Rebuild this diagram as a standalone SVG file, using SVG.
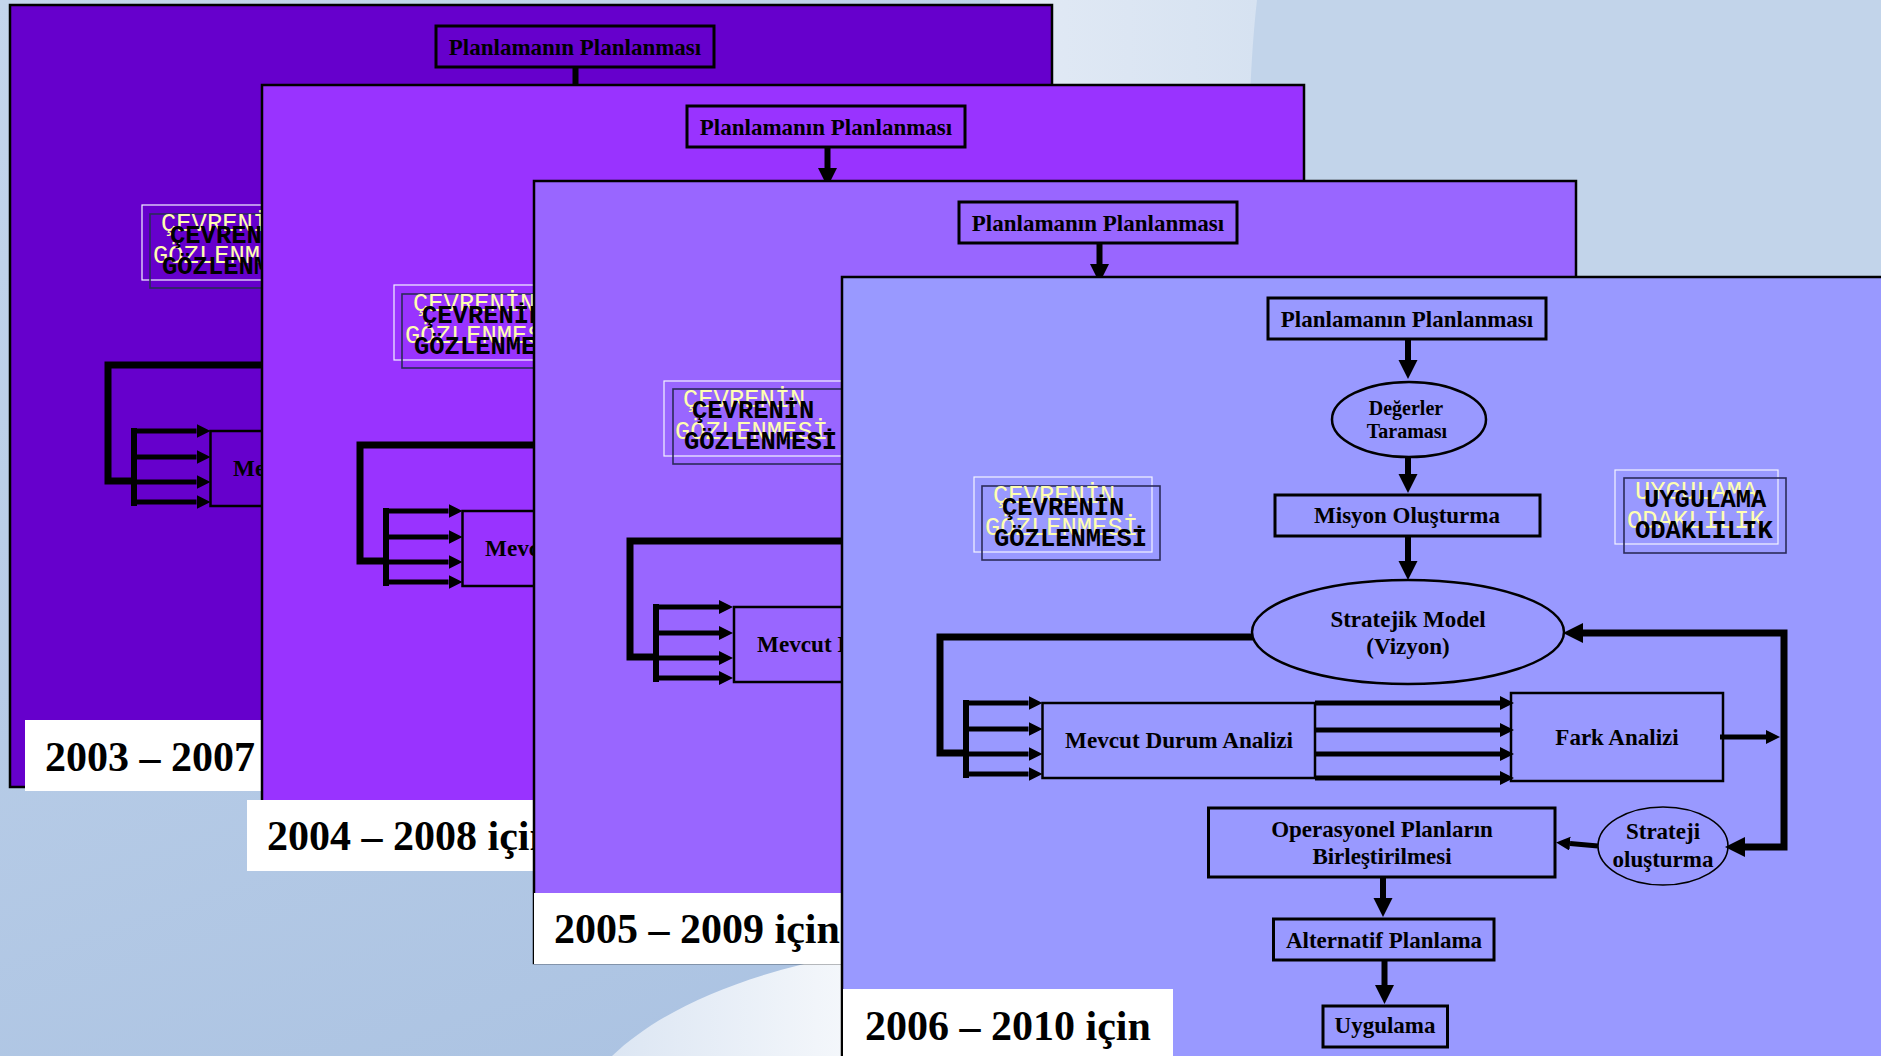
<svg xmlns="http://www.w3.org/2000/svg" width="1881" height="1056" viewBox="0 0 1881 1056">
<defs>
<style>
.slide{stroke:#000;stroke-width:2.5}
.bx{fill:none;stroke:#000;stroke-width:3}
.bx2{fill:none;stroke:#000;stroke-width:2.5}
.bx1{fill:none;stroke:#000;stroke-width:1.6}
.bt{font-family:"Liberation Serif","Times New Roman",serif;font-weight:bold;font-size:23px;text-anchor:middle;fill:#000}
.s20{font-size:20px}
.s21{font-size:23.2px}
.mono{font-family:"Liberation Mono","Courier New",monospace;font-size:25.5px}
.lt{fill:#FFFFB0;font-weight:normal}
.dk{fill:#000;font-weight:bold}
.wr{fill:none;stroke:#F4F4FF;stroke-width:1.2}
.dr{fill:none;stroke:#2B2B5A;stroke-width:1.6}
.ln{fill:none;stroke:#000;stroke-width:6}
.lt7{fill:none;stroke:#000;stroke-width:7}
.la{fill:none;stroke:#000;stroke-width:5}
.lab{fill:#fff}
.labt{font-family:"Liberation Serif","Times New Roman",serif;font-weight:bold;font-size:42px;fill:#000}
</style>
<marker id="aB" markerUnits="userSpaceOnUse" markerWidth="20" markerHeight="20" refX="0" refY="9.5" orient="auto"><path d="M0,0 L19,9.5 L0,19 z" fill="#000"/></marker>
<marker id="aF" markerUnits="userSpaceOnUse" markerWidth="21" markerHeight="21" refX="0" refY="10" orient="auto-start-reverse"><path d="M0,0 L20,10 L0,20 z" fill="#000"/></marker>
<marker id="aS" markerUnits="userSpaceOnUse" markerWidth="15" markerHeight="15" refX="0" refY="7" orient="auto"><path d="M0,0 L14,7 L0,14 z" fill="#000"/></marker>
<linearGradient id="bg" x1="0" y1="0" x2="0.6" y2="1">
<stop offset="0" stop-color="#C4D6EC"/>
<stop offset="1" stop-color="#A9C1E1"/>
</linearGradient>
<linearGradient id="sw1" x1="0" y1="0" x2="1" y2="0">
<stop offset="0" stop-color="#E2EAF5"/>
<stop offset="1" stop-color="#D6E2F1"/>
</linearGradient>
<linearGradient id="sw2" x1="0" y1="0" x2="1" y2="0">
<stop offset="0" stop-color="#DCE6F3"/>
<stop offset="1" stop-color="#F4F7FB"/>
</linearGradient>
</defs>

<g id="background">
<rect x="0" y="0" width="1881" height="1056" fill="url(#bg)"/>
<rect x="1250" y="0" width="631" height="300" fill="#C2D4EA"/>
<path d="M1000,0 L1257,0 C1250,60 1247,150 1246,300 L1000,300 Z" fill="url(#sw1)"/>
<path d="M612,1056 C660,1010 740,975 845,955 L845,1056 Z" fill="url(#sw2)"/>
</g>

<!-- Slide 1 -->
<g id="slide1" transform="translate(10,5)">
<rect class="slide" x="0" y="0" width="1042" height="782" fill="#6600CC"/>
<g id="s1-connectors">
<line class="ln" x1="565.5" y1="62" x2="565.5" y2="95"/>
<polyline class="lt7" points="300,360 98,360 98,476 124,476"/>
<line class="ln" x1="124" y1="423" x2="124" y2="501"/>
<line class="la" x1="124" y1="426" x2="186.5" y2="426" marker-end="url(#aS)"/>
<line class="la" x1="124" y1="452" x2="186.5" y2="452" marker-end="url(#aS)"/>
<line class="la" x1="124" y1="477" x2="186.5" y2="477" marker-end="url(#aS)"/>
<line class="la" x1="124" y1="497" x2="186.5" y2="497" marker-end="url(#aS)"/>
</g>
<g id="s1-plan"><rect class="bx" x="426" y="21" width="278" height="41"/><text class="bt" x="565" y="50">Planlamanın Planlanması</text></g>
<g id="s1-cevre">
<rect class="wr" x="132" y="200" width="178" height="75"/>
<rect class="dr" x="140" y="209" width="178" height="74"/>
<text class="mono lt" x="151" y="226">ÇEVRENİN</text>
<text class="mono lt" x="143" y="258">GÖZLENMESİ</text>
<text class="mono dk" x="160" y="238">ÇEVRENİN</text>
<text class="mono dk" x="152" y="269">GÖZLENMESİ</text>
</g>
<g id="s1-mevcut"><rect class="bx2" x="200.5" y="426" width="272.5" height="75"/><text class="bt s21" x="337" y="471">Mevcut Durum Analizi</text></g>
<g id="s1-label"><rect class="lab" x="15" y="715" width="330" height="71"/><text class="labt" x="35" y="766">2003 – 2007</text></g>
</g>

<!-- Slide 2 -->
<g id="slide2" transform="translate(262,85)">
<rect class="slide" x="0" y="0" width="1042" height="782" fill="#9933FF"/>
<g id="s2-connectors">
<line class="ln" x1="565.5" y1="62" x2="565.5" y2="83" marker-end="url(#aB)"/>
<polyline class="lt7" points="300,360 98,360 98,476 124,476"/>
<line class="ln" x1="124" y1="423" x2="124" y2="501"/>
<line class="la" x1="124" y1="426" x2="186.5" y2="426" marker-end="url(#aS)"/>
<line class="la" x1="124" y1="452" x2="186.5" y2="452" marker-end="url(#aS)"/>
<line class="la" x1="124" y1="477" x2="186.5" y2="477" marker-end="url(#aS)"/>
<line class="la" x1="124" y1="497" x2="186.5" y2="497" marker-end="url(#aS)"/>
</g>
<g id="s2-plan"><rect class="bx" x="425" y="21" width="278" height="41"/><text class="bt" x="564" y="50">Planlamanın Planlanması</text></g>
<g id="s2-cevre">
<rect class="wr" x="132" y="200" width="178" height="75"/>
<rect class="dr" x="140" y="209" width="178" height="74"/>
<text class="mono lt" x="151" y="226">ÇEVRENİN</text>
<text class="mono lt" x="143" y="258">GÖZLENMESİ</text>
<text class="mono dk" x="160" y="238">ÇEVRENİN</text>
<text class="mono dk" x="152" y="269">GÖZLENMESİ</text>
</g>
<g id="s2-mevcut"><rect class="bx2" x="200.5" y="426" width="272.5" height="75"/><text class="bt s21" x="337" y="471">Mevcut Durum Analizi</text></g>
<g id="s2-label"><rect class="lab" x="-15" y="715" width="330" height="71"/><text class="labt" x="5" y="765">2004 – 2008 için</text></g>
</g>

<!-- Slide 3 -->
<g id="slide3" transform="translate(534,181)">
<rect class="slide" x="0" y="0" width="1042" height="782" fill="#9966FF"/>
<g id="s3-connectors">
<line class="ln" x1="565.5" y1="62" x2="565.5" y2="83" marker-end="url(#aB)"/>
<polyline class="lt7" points="330,360 96,360 96,476 122,476"/>
<line class="ln" x1="122" y1="423" x2="122" y2="501"/>
<line class="la" x1="122" y1="426" x2="185" y2="426" marker-end="url(#aS)"/>
<line class="la" x1="122" y1="452" x2="185" y2="452" marker-end="url(#aS)"/>
<line class="la" x1="122" y1="477" x2="185" y2="477" marker-end="url(#aS)"/>
<line class="la" x1="122" y1="497" x2="185" y2="497" marker-end="url(#aS)"/>
</g>
<g id="s3-plan"><rect class="bx" x="425" y="21" width="278" height="41"/><text class="bt" x="564" y="50">Planlamanın Planlanması</text></g>
<g id="s3-cevre">
<rect class="wr" x="130" y="200" width="178" height="75"/>
<rect class="dr" x="139" y="208" width="178" height="75"/>
<text class="mono lt" x="149" y="226">ÇEVRENİN</text>
<text class="mono lt" x="141" y="258">GÖZLENMESİ</text>
<text class="mono dk" x="158" y="237">ÇEVRENİN</text>
<text class="mono dk" x="150" y="268">GÖZLENMESİ</text>
</g>
<g id="s3-mevcut"><rect class="bx2" x="200" y="426" width="272.5" height="75"/><text class="bt s21" x="337" y="471">Mevcut Durum Analizi</text></g>
<g id="s3-label"><rect class="lab" x="0" y="712" width="330" height="71"/><text class="labt" x="20" y="762">2005 – 2009 için</text></g>
</g>

<!-- Slide 4 -->
<g id="slide4" transform="translate(842,277)">
<rect class="slide" x="0" y="0" width="1042" height="782" fill="#9999FF"/>
<g id="s4-connectors">
<line class="ln" x1="566" y1="62" x2="566" y2="83" marker-end="url(#aB)"/>
<line class="ln" x1="566" y1="180" x2="566" y2="197" marker-end="url(#aB)"/>
<line class="ln" x1="566" y1="259" x2="566" y2="284" marker-end="url(#aB)"/>
<polyline class="lt7" points="411,360 98,360 98,476 124,476"/>
<line class="ln" x1="124" y1="423" x2="124" y2="501"/>
<line class="la" x1="124" y1="426" x2="186.5" y2="426" marker-end="url(#aS)"/>
<line class="la" x1="124" y1="452" x2="186.5" y2="452" marker-end="url(#aS)"/>
<line class="la" x1="124" y1="477" x2="186.5" y2="477" marker-end="url(#aS)"/>
<line class="la" x1="124" y1="497" x2="186.5" y2="497" marker-end="url(#aS)"/>
<line class="la" x1="473" y1="426" x2="658" y2="426" marker-end="url(#aS)"/>
<line class="la" x1="473" y1="453" x2="658" y2="453" marker-end="url(#aS)"/>
<line class="la" x1="473" y1="477" x2="658" y2="477" marker-end="url(#aS)"/>
<line class="la" x1="473" y1="501" x2="658" y2="501" marker-end="url(#aS)"/>
<line class="la" x1="878" y1="460" x2="924" y2="460" marker-end="url(#aS)"/>
<path class="lt7" d="M741,356 H942 V570 H903" marker-start="url(#aF)" marker-end="url(#aF)"/>
<line class="la" x1="756" y1="569" x2="728" y2="566.6" marker-end="url(#aS)"/>
<line class="ln" x1="541" y1="600" x2="541" y2="621" marker-end="url(#aB)"/>
<line class="ln" x1="542.5" y1="683" x2="542.5" y2="708" marker-end="url(#aB)"/>
</g>
<g id="s4-plan"><rect class="bx" x="426" y="21" width="278" height="41"/><text class="bt" x="565" y="50">Planlamanın Planlanması</text></g>
<g id="s4-degerler"><ellipse class="bx2" cx="567" cy="142.5" rx="77" ry="37.5"/><text class="bt s20" x="564" y="138">Değerler</text><text class="bt s20" x="565" y="161">Taraması</text></g>
<g id="s4-misyon"><rect class="bx" x="433" y="218" width="265" height="41"/><text class="bt" x="565" y="246">Misyon Oluşturma</text></g>
<g id="s4-stratejik"><ellipse class="bx2" cx="566" cy="355" rx="156" ry="52"/><text class="bt" x="566" y="350">Stratejik Model</text><text class="bt" x="566" y="377">(Vizyon)</text></g>
<g id="s4-cevre">
<rect class="wr" x="132" y="200" width="178" height="75"/>
<rect class="dr" x="140" y="209" width="178" height="74"/>
<text class="mono lt" x="151" y="226">ÇEVRENİN</text>
<text class="mono lt" x="143" y="258">GÖZLENMESİ</text>
<text class="mono dk" x="160" y="238">ÇEVRENİN</text>
<text class="mono dk" x="152" y="269">GÖZLENMESİ</text>
</g>
<g id="s4-uygulama-odak">
<rect class="wr" x="773" y="193" width="163" height="74"/>
<rect class="dr" x="782" y="201" width="162" height="75"/>
<text class="mono lt" x="793" y="222">UYGULAMA</text>
<text class="mono lt" x="785" y="251">ODAKLILIK</text>
<text class="mono dk" x="802" y="230">UYGULAMA</text>
<text class="mono dk" x="793" y="261">ODAKLILIK</text>
</g>
<g id="s4-mevcut"><rect class="bx2" x="200.5" y="426" width="272.5" height="75"/><text class="bt s21" x="337" y="471">Mevcut Durum Analizi</text></g>
<g id="s4-fark"><rect class="bx2" x="669" y="416" width="212" height="88"/><text class="bt" x="775" y="468">Fark Analizi</text></g>
<g id="s4-strateji"><ellipse class="bx1" cx="821" cy="569" rx="65" ry="39"/><text class="bt" x="821" y="562">Strateji</text><text class="bt" x="821" y="590">oluşturma</text></g>
<g id="s4-operasyonel"><rect class="bx" x="366.5" y="531" width="346.5" height="69"/><text class="bt" x="540" y="560">Operasyonel Planların</text><text class="bt" x="540" y="587">Birleştirilmesi</text></g>
<g id="s4-alternatif"><rect class="bx" x="431.5" y="642" width="220.5" height="41"/><text class="bt" x="542" y="671">Alternatif Planlama</text></g>
<g id="s4-uygulama"><rect class="bx" x="481" y="729" width="124.5" height="41"/><text class="bt" x="543" y="756">Uygulama</text></g>
<g id="s4-label"><rect class="lab" x="1" y="712" width="330" height="80"/><text class="labt" x="23" y="763">2006 – 2010 için</text></g>
</g>
</svg>
